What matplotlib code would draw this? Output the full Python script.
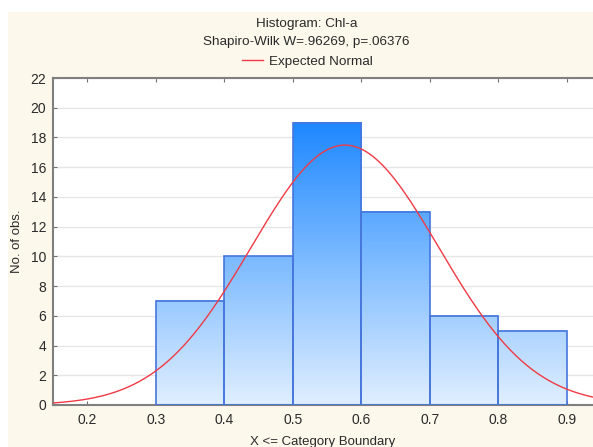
import numpy as np
import matplotlib
matplotlib.use("Agg")
import matplotlib.pyplot as plt
from matplotlib.colors import LinearSegmentedColormap
from matplotlib.patches import Rectangle

plt.rcParams['font.family'] = ['Liberation Sans', 'DejaVu Sans']

# Data
bin_edges = [0.3, 0.4, 0.5, 0.6, 0.7, 0.8, 0.9]
counts = [7, 10, 19, 13, 6, 5]
fit_mean = 0.576
fit_sd = 0.1369
n_obs = sum(counts)
bin_width = 0.1
x_ticks = [0.2, 0.3, 0.4, 0.5, 0.6, 0.7, 0.8, 0.9]
y_ticks = list(range(0, 23, 2))

W, H = 593, 447
fig = plt.figure(figsize=(W / 100, H / 100), dpi=100, facecolor='white')
fig.patches.append(Rectangle((8 / W, 0), 1, 1 - 12 / H, transform=fig.transFigure,
                             facecolor='#FDF8EC', edgecolor='none', zorder=-10))

ax = fig.add_axes([53 / W, 1 - 405 / H, (W - 53) / W, (405 - 78) / H])
ax.set_facecolor('white')

cmap = LinearSegmentedColormap.from_list('g', ['#E0EFFF', '#1E88FF'])
for left, right, c in zip(bin_edges[:-1], bin_edges[1:], counts):
    vals = np.linspace(0, c, 256).reshape(-1, 1)
    ax.imshow(vals, extent=[left, right, 0, c], origin='lower', cmap=cmap,
              vmin=0, vmax=19, aspect='auto', zorder=2, interpolation='bilinear')
    ax.add_patch(Rectangle((left, 0), right - left, c, facecolor='none',
                           edgecolor='#4676DD', linewidth=1.2, zorder=3))
ax.set_xlim(0.15, 0.938)
ax.set_ylim(0, 22)

xs = np.linspace(0.15, 0.95, 400)
ys = n_obs * bin_width / (fit_sd * np.sqrt(2 * np.pi)) * np.exp(-0.5 * ((xs - fit_mean) / fit_sd) ** 2)
line, = ax.plot(xs, ys, color='#F03A45', linewidth=1.0, zorder=4, clip_on=True)

ax.set_yticks(y_ticks)
ax.set_xticks(x_ticks)
ax.set_xticklabels([f'{t:.1f}' for t in x_ticks])
ax.grid(axis='y', color='#E6E6E6', linewidth=1.0, zorder=0)
ax.set_axisbelow(True)
ax.tick_params(direction='in', length=3, color='#707070', labelsize=10, labelcolor='#2A2A2A',
               top=True, right=False, pad=6)
ax.tick_params(axis='y', pad=5)
for s in ['left', 'bottom', 'top']:
    ax.spines[s].set_color('#808080')
    ax.spines[s].set_linewidth(1.5)
ax.spines['right'].set_visible(False)

ax.set_xlabel('X <= Category Boundary', fontsize=9.5, color='#2A2A2A', labelpad=6)
ax.set_ylabel('No. of obs.', fontsize=9.5, color='#2A2A2A', labelpad=5)

cx = 306.5 / W
fig.text(cx, 1 - 24 / H, 'Histogram: Chl-a', ha='center', va='center', fontsize=9.7, color='#2A2A2A')
fig.text(cx, 1 - 42 / H, 'Shapiro-Wilk W=.96269, p=.06376', ha='center', va='center', fontsize=9.7, color='#2A2A2A')
fig.legend([line], ['Expected Normal'], loc='center', bbox_to_anchor=(307.5 / W, 1 - 62 / H),
           frameon=False, fontsize=9.7, handlelength=1.55, handletextpad=0.4, borderpad=0,
           labelcolor='#2A2A2A')

fig.savefig('out.png', dpi=100, facecolor='white')
